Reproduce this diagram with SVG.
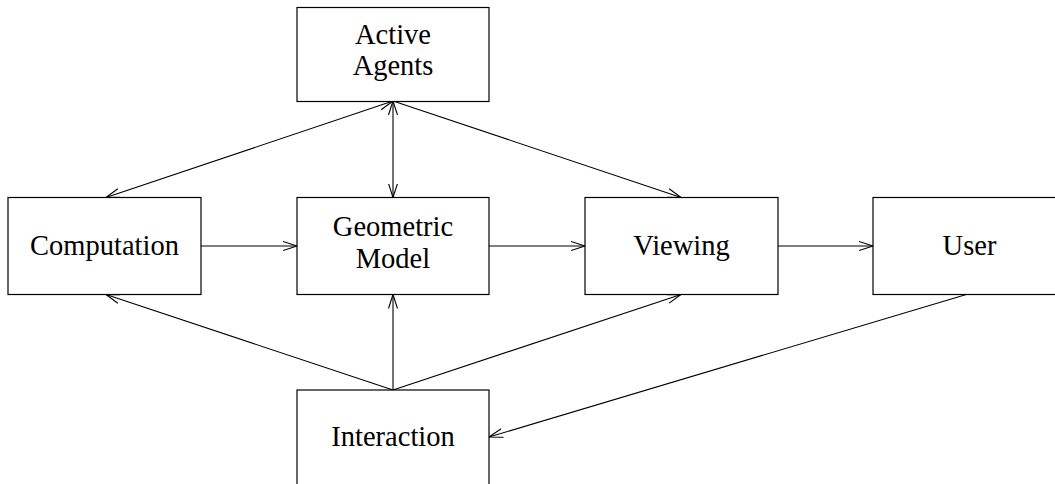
<svg xmlns="http://www.w3.org/2000/svg" width="1055" height="484" viewBox="0 0 1055 484">
<style>
.box{fill:#fff;stroke:#000;stroke-width:1.2}
.lbl{font-family:"Liberation Serif",serif;font-size:28.5px;fill:#000;text-anchor:middle}
.c{stroke:#000;stroke-width:1.1;fill:none}
</style>
<defs>
<marker id="ah" markerWidth="16" markerHeight="12" refX="14" refY="6" orient="auto-start-reverse" markerUnits="userSpaceOnUse" viewBox="0 0 16 12">
<path d="M0,1.5 L14,6 L0,10.5" fill="none" stroke="#000" stroke-width="1.1"/>
</marker>
</defs>
<rect width="1055" height="484" fill="#fff"/>
<g id="connectors">
<line class="c" x1="393" y1="101" x2="106" y2="197.5" marker-start="url(#ah)" marker-end="url(#ah)"/>
<line class="c" x1="393" y1="101" x2="393" y2="197.5" marker-start="url(#ah)" marker-end="url(#ah)"/>
<line class="c" x1="393" y1="101" x2="681" y2="197.5" marker-end="url(#ah)"/>
<line class="c" x1="201" y1="246" x2="297" y2="246" marker-end="url(#ah)"/>
<line class="c" x1="489" y1="246" x2="585" y2="246" marker-end="url(#ah)"/>
<line class="c" x1="778" y1="246" x2="873" y2="246" marker-end="url(#ah)"/>
<line class="c" x1="393" y1="390" x2="106" y2="294.5" marker-end="url(#ah)"/>
<line class="c" x1="393" y1="390" x2="393" y2="294.5" marker-end="url(#ah)"/>
<line class="c" x1="393" y1="390" x2="681" y2="294.5" marker-end="url(#ah)"/>
<line class="c" x1="968" y1="294" x2="489" y2="437" marker-end="url(#ah)"/>
</g>
<g id="node-active-agents">
<rect class="box" x="297" y="7.5" width="192" height="94"/>
<text class="lbl" x="393" y="44">Active</text>
<text class="lbl" x="393" y="75">Agents</text>
</g>
<g id="node-computation">
<rect class="box" x="8" y="197.5" width="193" height="97"/>
<text class="lbl" x="104.5" y="255">Computation</text>
</g>
<g id="node-geometric-model">
<rect class="box" x="297" y="197.5" width="192" height="97"/>
<text class="lbl" x="393" y="236">Geometric</text>
<text class="lbl" x="393" y="268">Model</text>
</g>
<g id="node-viewing">
<rect class="box" x="585" y="197.5" width="193" height="97"/>
<text class="lbl" x="681.5" y="255">Viewing</text>
</g>
<g id="node-user">
<rect class="box" x="873" y="197.5" width="193" height="97"/>
<text class="lbl" x="969.5" y="255">User</text>
</g>
<g id="node-interaction">
<rect class="box" x="297" y="390" width="192" height="110"/>
<text class="lbl" x="393" y="446">Interaction</text>
</g>
</svg>
